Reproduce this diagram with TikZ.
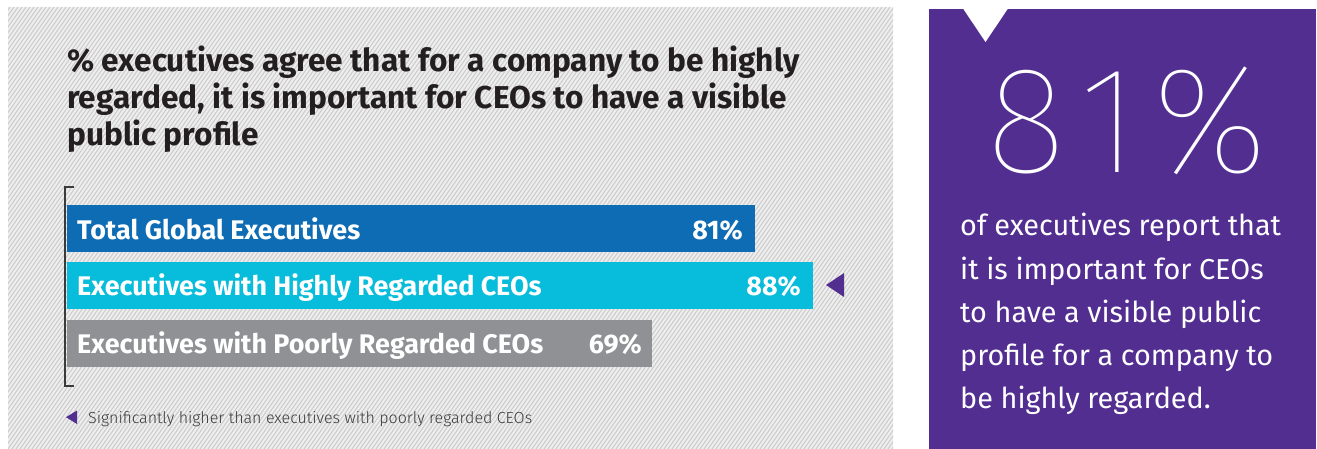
\documentclass[tikz,border=0pt]{standalone}
\usepackage{fontspec}
\setmainfont{Fira Sans}
\newfontfamily\titlefont{Fira Sans Bold}
\newfontfamily\barfont{Fira Sans Bold}
\newfontfamily\bodyfont{Fira Sans}
\newfontfamily\notefont{Fira Sans Light}
\newfontfamily\thinfont{Fira Sans Thin}
\definecolor{hatchbg}{HTML}{EFEFEF}
\definecolor{hatchln}{HTML}{CDCDCD}
\definecolor{ink}{HTML}{231F20}
\definecolor{barblue}{HTML}{0E6CB5}
\definecolor{barcyan}{HTML}{08BCDB}
\definecolor{bargrey}{HTML}{8F9194}
\definecolor{panelpurple}{HTML}{522E91}
\definecolor{notegrey}{HTML}{3A3A3A}
\tikzset{
  titletext/.style={anchor=base west, inner sep=0pt, text=ink, font=\titlefont\fontsize{31.6}{37}\selectfont},
  barlabel/.style={anchor=base west, inner sep=0pt, text=white, font=\barfont\fontsize{26.9}{30}\selectfont},
  barvalue/.style={anchor=base east, inner sep=0pt, text=white, font=\barfont\fontsize{26.9}{30}\selectfont},
  panelline/.style={anchor=base west, inner sep=0pt, text=white, font=\bodyfont\fontsize{28.8}{32}\selectfont},
  bar/.style={inner sep=0pt, minimum height=47pt, anchor=north west},
}
\begin{document}
\begin{tikzpicture}[x=1pt,y=-1pt]
\useasboundingbox (0,0) rectangle (1317,449);
\fill[white] (0,0) rectangle (1317,449);
% hatched panel
\fill[hatchbg] (8,7) rectangle (893,449);
\begin{scope}
\clip (8,7) rectangle (893,449);
\foreach \i in {-320,-316,...,900} {
  \draw[hatchln, line width=1.1pt] (\i,449) -- (\i+310,7);
}
\end{scope}
% title
\node[titletext] (t1) at (67,72) {\% executives agree that for a company to be highly};
\node[titletext] (t2) at (67,108.5) {regarded, it is important for CEOs to have a visible};
\node[titletext] (t3) at (67,145.5) {public profile};
% bracket
\draw[notegrey, line width=1.3pt] (74,187) -- (65,187) -- (65,386) -- (74,386);
% bars
\node[bar, fill=barblue, minimum width=688pt] (b1) at (67,205) {};
\node[bar, fill=barcyan, minimum width=746pt] (b2) at (67,261.5) {};
\node[bar, fill=bargrey, minimum width=585pt] (b3) at (67,319.5) {};
\node[barlabel] (l1) at (77,239.5) {Total Global Executives};
\node[barlabel] (l2) at (77,295.5) {Executives with Highly Regarded CEOs};
\node[barlabel] (l3) at (77,353) {Executives with Poorly Regarded CEOs};
\node[barvalue] (v1) at (743,239.5) {81\%};
\node[barvalue] (v2) at (801,295.5) {88\%};
\node[barvalue] (v3) at (642,353) {69\%};
% significance marker
\fill[panelpurple] (844,273) -- (844,297) -- (826,285) -- cycle;
% footnote
\fill[panelpurple] (77,410.5) -- (77,424) -- (66,417.2) -- cycle;
\node[anchor=base west, inner sep=0pt, text=notegrey, font=\notefont\fontsize{16}{18}\selectfont] (fn) at (88,423) {Significantly higher than executives with poorly regarded CEOs};
% purple panel
\fill[panelpurple] (929,9) rectangle (1316,449);
\fill[white] (963,8.5) -- (1008,8.5) -- (985.5,42) -- cycle;
\node[anchor=base, inner sep=0pt, text=white, font=\thinfont\fontsize{152}{152}\selectfont] (big) at (1127,173) {8\hspace{13pt}1\hspace{13pt}\%};
\node[panelline] (p1) at (960,236) {of executives report that};
\node[panelline] (p2) at (960,279) {it is important for CEOs};
\node[panelline] (p3) at (960,322) {to have a visible public};
\node[panelline] (p4) at (960,365) {profile for a company to};
\node[panelline] (p5) at (960,408) {be highly regarded.};
\end{tikzpicture}
\end{document}
